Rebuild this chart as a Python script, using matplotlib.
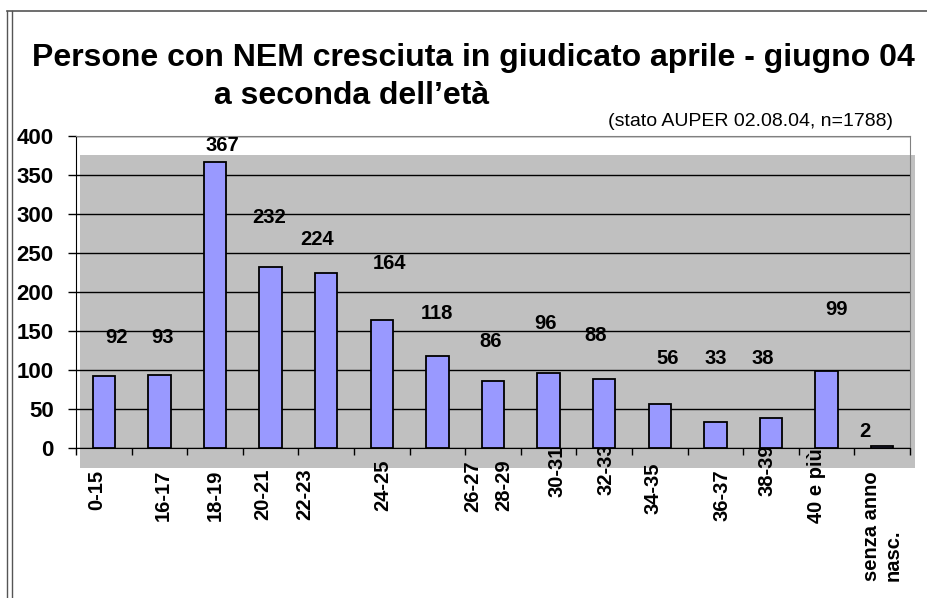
import numpy as np
import matplotlib
matplotlib.use("Agg")
import matplotlib.pyplot as plt
from matplotlib.patches import Rectangle
from matplotlib.lines import Line2D
from matplotlib.transforms import ScaledTranslation

plt.rcParams['font.family'] = ['Liberation Sans', 'DejaVu Sans']

# dati
categorie = ["0-15", "16-17", "18-19", "20-21", "22-23", "24-25", "26-27", "28-29",
             "30-31", "32-33", "34-35", "36-37", "38-39", "40 e più", "senza anno\nnasc."]
persone = [92, 93, 367, 232, 224, 164, 118, 86, 96, 88, 56, 33, 38, 99, 2]
yticks = [0, 50, 100, 150, 200, 250, 300, 350, 400]

# posizione delle etichette dei valori (come nell'originale, un po' spostate)
lab_x = [0.22, 1.06, 2.13, 2.97, 3.83, 5.13, 5.99, 6.95, 7.94, 8.85, 10.15, 11.01, 11.86, 13.17, 13.69]
lab_y = [142, 142, 388, 296, 267, 236, 172, 136, 160, 144, 115, 115, 115, 177, 21]
# spostamento etichette asse x (pixel: dx, dy verso il basso)
tick_dx = [-7, 4, 0, -8, -21, 1, 35, 11, 8, 2, -7, 7, -4, -10, 0]
tick_dy = [0, -1, -1, -2, -2, -11, -10, -11, -25, -27, -8, -1, -26, -22, 1]

W, H = 928, 598
fig = plt.figure(figsize=(W / 100, H / 100), dpi=100)

# cornice
fig.lines.append(Line2D([7 / W, 7 / W], [0, 1 - 11 / H], transform=fig.transFigure, color='#555555', lw=1))
fig.lines.append(Line2D([12 / W, 12 / W], [0, 1 - 11 / H], transform=fig.transFigure, color='#555555', lw=1))
fig.lines.append(Line2D([7 / W, 1], [1 - 11 / H, 1 - 11 / H], transform=fig.transFigure, color='#555555', lw=1.2))

ax = fig.add_axes([76 / W, 1 - 448 / H, 834 / W, 312 / H])
ax.set_facecolor('none')

# sfondo grigio (spostato rispetto all'area del grafico)
ax.add_patch(Rectangle((80 / W, 1 - 468 / H), 835 / W, 313 / H,
                       transform=fig.transFigure, facecolor='#C0C0C0',
                       edgecolor='none', zorder=0, clip_on=False))

x = np.arange(len(persone))
ax.bar(x, persone, width=0.4, color='#9999FF', edgecolor='black', linewidth=1.3, zorder=3)

for xi, yi, v in zip(lab_x, lab_y, persone):
    ax.text(xi, yi, str(v), ha='center', va='center', fontsize=14.5, fontweight='bold', zorder=4)

ax.set_xlim(-0.5, len(persone) - 0.5)
ax.set_ylim(0, 400)
ax.set_yticks(yticks)
ax.set_yticklabels([str(t) for t in yticks], fontsize=16, fontweight='bold')
ax.yaxis.grid(True, color='black', lw=1, zorder=1)
ax.set_axisbelow(True)

ax.set_xticks(np.arange(-0.5, len(persone), 1))
ax.set_xticklabels([])
ax.set_xticks(x, minor=True)
ax.set_xticklabels(categorie, minor=True, rotation=90, fontsize=14.5, fontweight='bold')
ax.tick_params(axis='x', which='major', length=5, width=1, direction='out')
ax.tick_params(axis='x', which='minor', length=0, pad=16)
ax.tick_params(axis='y', length=6, width=1, direction='out', pad=10)

for lbl, dx, dy in zip(ax.get_xticklabels(minor=True), tick_dx, tick_dy):
    lbl.set_transform(lbl.get_transform() + ScaledTranslation(dx / 100, -dy / 100, fig.dpi_scale_trans))
    if '\n' in lbl.get_text():
        lbl.set_multialignment('left')

for s in ['top', 'right']:
    ax.spines[s].set_color('#808080')
ax.spines['left'].set_color('black')
ax.spines['bottom'].set_color('black')

fig.text(473 / W, 1 - 66 / H, "Persone con NEM cresciuta in giudicato aprile - giugno 04",
         ha='center', va='baseline', fontsize=23, fontweight='bold')
fig.text(214 / W, 1 - 104 / H, "a seconda dell\u2019età",
         ha='left', va='baseline', fontsize=23, fontweight='bold')
fig.text(893 / W, 1 - 121 / H, "(stato AUPER 02.08.04, n=1788)",
         ha='right', va='center', fontsize=14)

fig.savefig("out.png", dpi=100, facecolor='white')
